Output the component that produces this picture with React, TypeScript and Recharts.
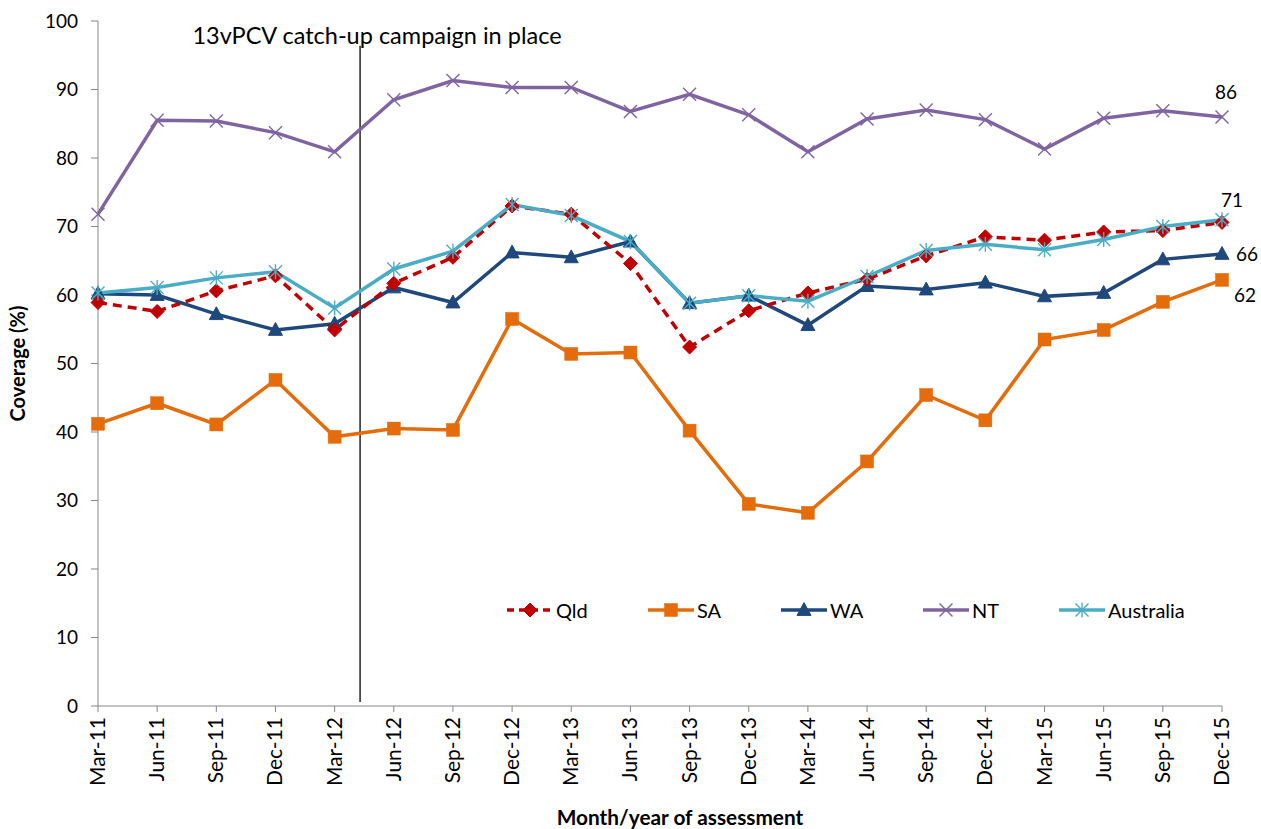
import React from "react";
import { LineChart, Line, XAxis, YAxis, ReferenceLine, Legend, Label } from "recharts";

const months = ["Mar-11","Jun-11","Sep-11","Dec-11","Mar-12","Jun-12","Sep-12","Dec-12","Mar-13","Jun-13","Sep-13","Dec-13","Mar-14","Jun-14","Sep-14","Dec-14","Mar-15","Jun-15","Sep-15","Dec-15"];
const qld = [58.9,57.6,60.6,62.8,54.9,61.7,65.5,73.0,71.8,64.6,52.4,57.7,60.3,62.3,65.7,68.5,68.0,69.2,69.4,70.6];
const sa = [41.2,44.2,41.1,47.6,39.3,40.5,40.3,56.5,51.4,51.6,40.2,29.5,28.2,35.7,45.4,41.7,53.5,54.9,59.0,62.2];
const wa = [60.2,60.0,57.2,54.9,55.8,61.1,58.9,66.2,65.5,67.8,58.8,59.9,55.6,61.3,60.8,61.8,59.8,60.3,65.2,66.0];
const nt = [71.8,85.5,85.4,83.7,80.9,88.5,91.3,90.3,90.3,86.8,89.3,86.3,80.9,85.7,87.0,85.6,81.3,85.8,86.9,86.0];
const aus = [60.3,61.1,62.5,63.4,58.1,63.8,66.4,73.2,71.6,67.8,58.8,59.9,59.1,62.7,66.5,67.4,66.6,68.1,70.0,71.0];
const yTicks = [0,10,20,30,40,50,60,70,80,90,100];
const endLabels = { nt: "86", aus: "71", wa: "66", sa: "62" };
const campaignX = 4.43;
const campaignText = "13vPCV catch-up campaign in place";

const data = months.map((m, i) => ({ i, m, qld: qld[i], sa: sa[i], wa: wa[i], nt: nt[i], aus: aus[i] }));

const FONT = "Lato, 'Open Sans', sans-serif";
const C = { qld: "#C00000", sa: "#E46C0A", wa: "#1F497D", nt: "#8064A2", aus: "#4BACC6" };

type Shape = "diamond" | "square" | "triangle" | "x" | "star";

function Marker({ cx, cy, shape, color }: { cx: number; cy: number; shape: Shape; color: string }) {
  if (cx == null || cy == null) return null;
  switch (shape) {
    case "diamond": {
      const r = 7;
      return <polygon points={`${cx},${cy - r} ${cx + r},${cy} ${cx},${cy + r} ${cx - r},${cy}`} fill={color} stroke={color} strokeWidth={1} />;
    }
    case "square": {
      const s = 13;
      return <rect x={cx - s / 2} y={cy - s / 2} width={s} height={s} fill={color} stroke={color} strokeWidth={0.5} />;
    }
    case "triangle": {
      const h = 12, w = 14;
      return <polygon points={`${cx},${cy - h * 0.62} ${cx + w / 2},${cy + h * 0.45} ${cx - w / 2},${cy + h * 0.45}`} fill={color} stroke={color} strokeWidth={1} />;
    }
    case "x": {
      const r = 6.5;
      return (
        <g stroke={color} strokeWidth={1.4}>
          <line x1={cx - r} y1={cy - r} x2={cx + r} y2={cy + r} />
          <line x1={cx - r} y1={cy + r} x2={cx + r} y2={cy - r} />
        </g>
      );
    }
    case "star": {
      const r = 6.5;
      return (
        <g stroke={color} strokeWidth={1.4}>
          <line x1={cx - r} y1={cy - r} x2={cx + r} y2={cy + r} />
          <line x1={cx - r} y1={cy + r} x2={cx + r} y2={cy - r} />
          <line x1={cx} y1={cy - r - 1} x2={cx} y2={cy + r + 1} />
        </g>
      );
    }
  }
  return null;
}

const mkDot = (shape: Shape, color: string) => (props: any) => (
  <Marker key={`${shape}-${props.index}`} cx={props.cx} cy={props.cy} shape={shape} color={color} />
);

const mkEndLabel = (text: string, dx: number, dy: number) => (props: any) => {
  if (props.index !== months.length - 1) return null;
  return (
    <text key={`lbl-${text}`} x={props.x + dx} y={props.y + dy} textAnchor="middle" dominantBaseline="central" fontFamily={FONT} fontSize={19} fill="#000">
      {text}
    </text>
  );
};

const XTick = (props: any) => {
  const { x, y, payload } = props;
  return (
    <text x={0} y={0} transform={`translate(${x + 7},${y + 3}) rotate(-90)`} textAnchor="end" fontFamily={FONT} fontSize={21} fill="#000">
      {months[payload.value]}
    </text>
  );
};

const legendItems: { key: string; name: string; shape: Shape; dashed?: boolean; width: number }[] = [
  { key: "qld", name: "Qld", shape: "diamond", dashed: true, width: 141 },
  { key: "sa", name: "SA", shape: "square", width: 133 },
  { key: "wa", name: "WA", shape: "triangle", width: 142 },
  { key: "nt", name: "NT", shape: "x", width: 136 },
  { key: "aus", name: "Australia", shape: "star", width: 150 },
];

const LegendContent = () => (
  <div style={{ display: "flex", alignItems: "center", fontFamily: FONT, fontSize: 20 }}>
    {legendItems.map((it) => {
      const color = (C as any)[it.key];
      return (
        <div key={it.key} style={{ display: "flex", alignItems: "center", width: it.width }}>
          <svg width={48} height={20} style={{ marginRight: 2 }}>
            <line x1={1} y1={10} x2={47} y2={10} stroke={color} strokeWidth={3.5} strokeDasharray={it.dashed ? "7 5" : undefined} />
            <Marker cx={24} cy={10} shape={it.shape} color={color} />
          </svg>
          <span>{it.name}</span>
        </div>
      );
    })}
  </div>
);

export default function App() {
  return (
    <div style={{ position: "absolute", left: 0, top: 0, width: 1261, height: 829, background: "#fff" }}>
      <LineChart width={1261} height={829} data={data} margin={{ top: 21, right: 39, bottom: 43, left: 40 }}>
        <XAxis
          dataKey="i"
          type="number"
          domain={[0, months.length - 1]}
          ticks={months.map((_, i) => i)}
          interval={0}
          allowDecimals={false}
          height={80}
          stroke="#868686"
          tickSize={6}
          tick={<XTick />}
        >
          <Label value="Month/year of assessment" position="insideBottom" offset={-39} dx={20} fontFamily={FONT} fontSize={20.8} fontWeight="bold" fill="#000" />
        </XAxis>
        <YAxis
          domain={[0, 100]}
          ticks={yTicks}
          interval={0}
          width={58}
          stroke="#868686"
          tickSize={7}
          tickMargin={13}
          tick={{ fontFamily: FONT, fontSize: 19, fill: "#000" }}
        >
          <Label value="Coverage (%)" angle={-90} position="insideLeft" offset={-22} style={{ textAnchor: "middle" }} fontFamily={FONT} fontSize={20} fontWeight="bold" fill="#000" />
        </YAxis>
        <ReferenceLine
          segment={[{ x: campaignX, y: 0.6 }, { x: campaignX, y: 96.4 }]}
          stroke="#000"
          strokeWidth={1.3}
          ifOverflow="visible"
        />
        <Line type="linear" dataKey="nt" name="NT" stroke={C.nt} strokeWidth={3.5} dot={mkDot("x", C.nt)} isAnimationActive={false} label={mkEndLabel(endLabels.nt, 4, -25)} />
        <Line type="linear" dataKey="sa" name="SA" stroke={C.sa} strokeWidth={3.5} dot={mkDot("square", C.sa)} isAnimationActive={false} label={mkEndLabel(endLabels.sa, 23, 15)} />
        <Line type="linear" dataKey="wa" name="WA" stroke={C.wa} strokeWidth={3.5} dot={mkDot("triangle", C.wa)} isAnimationActive={false} label={mkEndLabel(endLabels.wa, 25, 0)} />
        <Line type="linear" dataKey="qld" name="Qld" stroke={C.qld} strokeWidth={3.5} strokeDasharray="9 6" dot={mkDot("diamond", C.qld)} isAnimationActive={false} />
        <Line type="linear" dataKey="aus" name="Australia" stroke={C.aus} strokeWidth={3.5} dot={mkDot("star", C.aus)} isAnimationActive={false} label={mkEndLabel(endLabels.aus, 10, -20)} />
        <Legend verticalAlign="middle" align="center" layout="horizontal" content={<LegendContent />} wrapperStyle={{ top: 598, left: 506, width: 720, height: 24 }} />
      </LineChart>
      <svg width={1261} height={60} style={{ position: "absolute", left: 0, top: 0, pointerEvents: "none" }}>
        <text x={377} y={44} textAnchor="middle" fontFamily={FONT} fontSize={23.5} fill="#000">{campaignText}</text>
      </svg>
    </div>
  );
}
